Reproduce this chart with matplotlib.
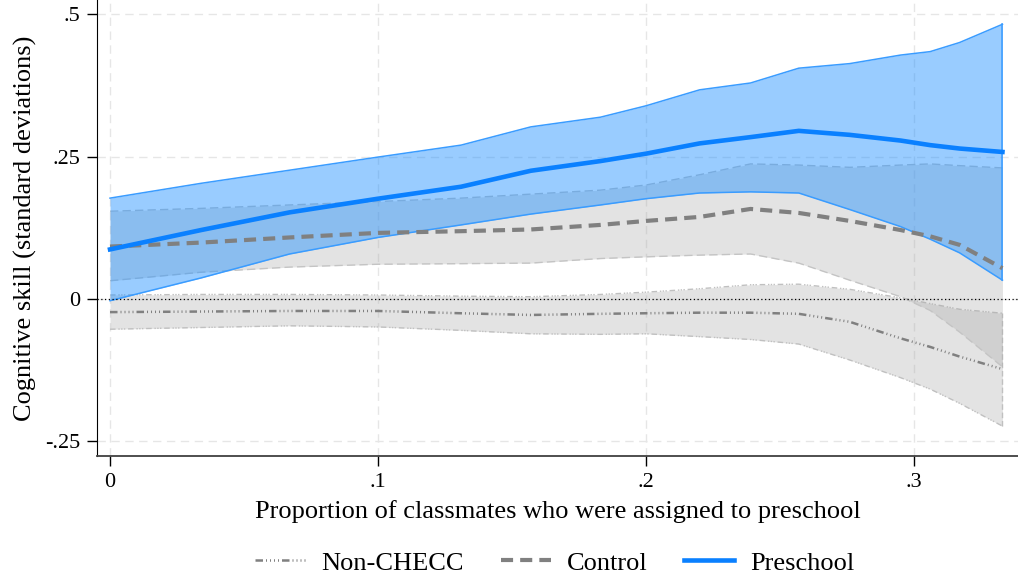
import numpy as np
import matplotlib.pyplot as plt

plt.rcParams['font.family'] = ['Liberation Serif', 'DejaVu Serif']

# share of classmates assigned to preschool (grid of the smoother)
x = [0, .034, .067, .100, .131, .157, .183, .200, .220, .239, .257, .276, .295, .306, .317, .333]

# Preschool: mean, upper and lower CI
pre_mean = [.087, .121, .152, .176, .197, .225, .242, .255, .273, .284, .295, .288, .278, .270, .264, .258]
pre_hi = [.177, .203, .226, .249, .270, .302, .319, .339, .367, .379, .405, .413, .428, .434, .450, .482]
pre_lo = [-.003, .037, .079, .108, .130, .149, .165, .176, .186, .188, .186, .157, .127, .105, .081, .033]

# Control
ctl_mean = [.092, .099, .108, .116, .119, .122, .130, .137, .144, .158, .151, .137, .121, .110, .095, .054]
ctl_hi = [.154, .159, .165, .171, .177, .184, .191, .200, .218, .237, .235, .231, .235, .237, .234, .230]
ctl_lo = [.032, .047, .056, .061, .062, .063, .071, .074, .077, .079, .063, .033, .004, -.020, -.058, -.119]

# Non-CHECC
non_mean = [-.023, -.022, -.021, -.021, -.025, -.028, -.026, -.025, -.024, -.024, -.026, -.040, -.069, -.084, -.101, -.123]
non_hi = [.007, .008, .008, .007, .005, .004, .008, .012, .018, .025, .026, .017, .002, -.008, -.018, -.025]
non_lo = [-.053, -.050, -.047, -.049, -.055, -.061, -.062, -.061, -.066, -.071, -.079, -.107, -.138, -.158, -.183, -.223]

xticks = [0, .1, .2, .3]
xtick_labels = ['0', '.1', '.2', '.3']
yticks = [-.25, 0, .25, .5]
ytick_labels = ['-.25', '0', '.25', '.5']

blue = '#0a80ff'
gray = '#808080'

fig = plt.figure(figsize=(10.18, 5.75), dpi=100)
ax = fig.add_axes([0.0953, 0.207, 0.9047, 0.793])

# bands
ax.fill_between(x, non_lo, non_hi, color='#a8a8a8', alpha=0.32, lw=0, zorder=2)
ax.plot(x, non_hi, color='#c0c0c0', lw=1, ls=(0, (4, 2, 1, 1, 1, 1, 1, 2)), zorder=2)
ax.plot(x, non_lo, color='#c0c0c0', lw=1, ls=(0, (4, 2, 1, 1, 1, 1, 1, 2)), zorder=2)
ax.plot([x[-1], x[-1]], [non_lo[-1], non_hi[-1]], color='#c0c0c0', lw=1, ls=(0, (4, 2)), zorder=2)

ax.fill_between(x, ctl_lo, ctl_hi, color='#a8a8a8', alpha=0.32, lw=0, zorder=3)
ax.plot(x, ctl_hi, color='#c4c4c4', lw=1, ls=(0, (6, 3)), zorder=3)
ax.plot(x, ctl_lo, color='#c4c4c4', lw=1, ls=(0, (6, 3)), zorder=3)

ax.fill_between(x, pre_lo, pre_hi, color='#1e8fff', alpha=0.45, lw=0, zorder=4)
ax.plot(x, pre_hi, color='#3a9cff', lw=1.1, zorder=4)
ax.plot(x, pre_lo, color='#3a9cff', lw=1.1, zorder=4)
ax.plot([x[-1], x[-1]], [pre_lo[-1], pre_hi[-1]], color='#3a9cff', lw=1.1, zorder=4)

# zero reference
ax.axhline(0, color='black', lw=0.9, ls=(0, (1, 2)), zorder=5)

# mean lines
l_non, = ax.plot(x, non_mean, color=gray, lw=1.8,
                 ls=(0, (3, 1.2, 0.4, 1.2, 0.4, 1.2, 0.4, 1.2, 0.4, 1.2)), zorder=6, label='Non-CHECC')
l_ctl, = ax.plot(x, ctl_mean, color=gray, lw=3, ls=(0, (2.9, 1.7)), zorder=6, label='Control')
l_pre, = ax.plot(x, pre_mean, color=blue, lw=3.3, zorder=7, label='Preschool')

ax.set_xlim(-0.00485, 0.3388)
ax.set_ylim(-0.2754, 0.5246)
ax.set_xticks(xticks)
ax.set_xticklabels(xtick_labels)
ax.set_yticks(yticks)
ax.set_yticklabels(ytick_labels)
ax.tick_params(labelsize=16, length=7, width=1, direction='out', pad=5)

ax.grid(True, color='#e6e6e6', ls=(0, (6, 4)), lw=1)
ax.set_axisbelow(True)
for s in ['top', 'right']:
    ax.spines[s].set_visible(False)
ax.spines['left'].set_color('black')
ax.spines['bottom'].set_color('#404040')
ax.spines['bottom'].set_linewidth(1.3)

ax.set_xlabel('Proportion of classmates who were assigned to preschool', fontsize=19, labelpad=6)
ax.set_ylabel('Cognitive skill (standard deviations)', fontsize=19, labelpad=6)

fig.legend(handles=[l_non, l_ctl, l_pre], loc='center', bbox_to_anchor=(0.545, 0.021),
           ncol=3, frameon=False, fontsize=19, handlelength=1.9, handletextpad=0.6,
           columnspacing=1.4)

fig.savefig('out.png', dpi=100)
